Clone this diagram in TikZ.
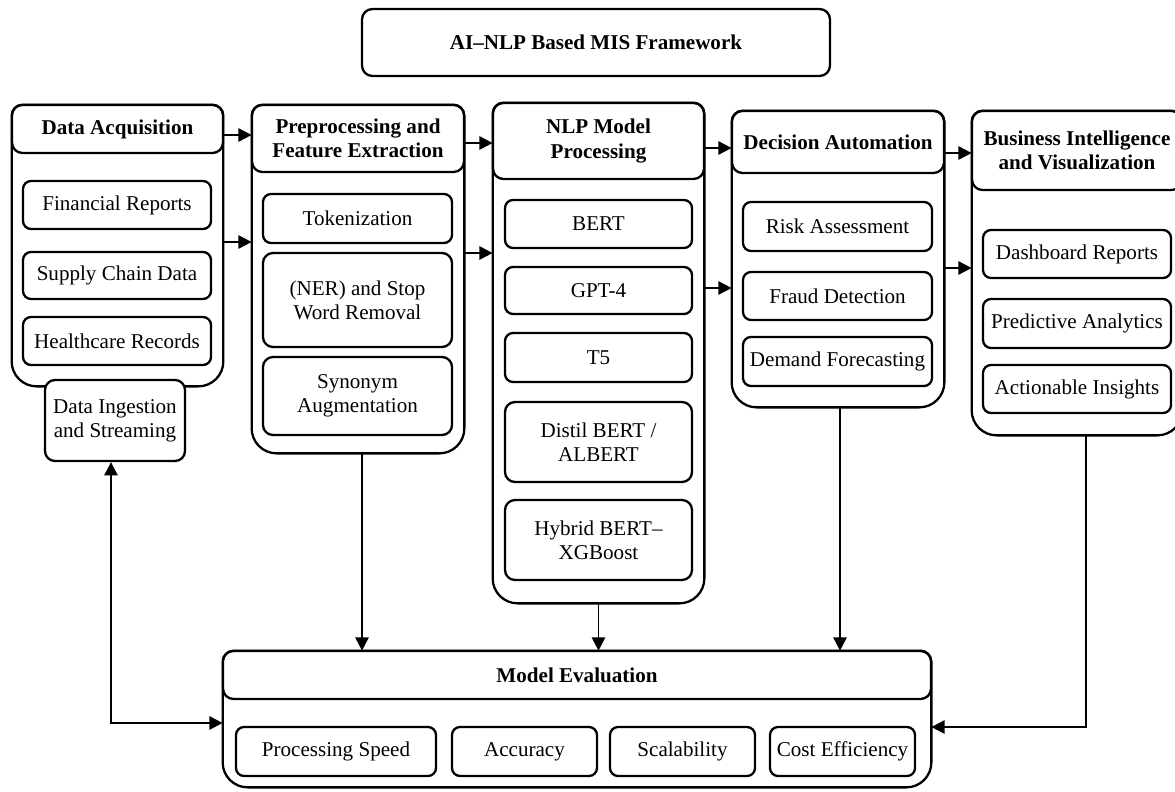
\documentclass[tikz,border=0pt]{standalone}
\usepackage{fontspec}
\setmainfont{Liberation Serif}
\usetikzlibrary{arrows.meta}
\tikzset{every node/.style={font=\fontsize{12}{13.8}\selectfont, inner sep=0pt, align=center},
  spans/.style args={#1/#2/#3/#4}{minimum width={(#3-#1)*0.02cm}, minimum height={(#4-#2)*0.02cm},
    at={({(#1+#3)/2},{(#2+#4)/2})}},
  box/.style={draw, line width=1.3pt, rounded corners=0.16cm, fill=white},
  hdr/.style={box, rounded corners=0.21cm, font=\fontsize{12}{13.8}\selectfont\bfseries},
  panel/.style={line width=1.3pt},
  arr/.style={line width=1.1pt, -{Triangle[length=7.5pt,width=7.5pt]}},
  twoarr/.style={line width=1.1pt, {Triangle[length=7.5pt,width=7.5pt]}-{Triangle[length=7.5pt,width=7.5pt]}}}
\newcommand{\panelframe}[1]{%
  \draw[panel] (#1.north) [rounded corners=0.22cm] -| (#1.west)
    [rounded corners=0.5cm] |- (#1.south) -| (#1.east)
    [rounded corners=0.22cm] |- (#1.north);}

\begin{document}
\begin{tikzpicture}[x=0.02cm,y=-0.02cm]
  \useasboundingbox (0,0) rectangle (1175,791);
  \clip (0,0) rectangle (1175,791);
  \node[hdr, spans=362/9/830/76] (title) {AI--NLP Based MIS Framework};
  % panels
  \node[spans=12/105/223/386] (da) {};
  \node[spans=252/105/464/453] (pp) {};
  \node[spans=493/103/704/603] (nlp) {};
  \node[spans=732/111/944/407] (dec) {};
  \node[spans=972/111/1182/435] (bi) {};
  \node[spans=223/651/931/787] (ev) {};
  \foreach \p in {da,pp,nlp,dec,bi,ev} {\panelframe{\p}}
  % headers
  \node[hdr, spans=12/105/223/153] (dah) {Data Acquisition};
  \node[hdr, spans=252/105/464/172] (pph) {Preprocessing and\\Feature Extraction};
  \node[hdr, spans=493/103/704/179] (nlph) {NLP Model\\Processing};
  \node[hdr, spans=732/111/944/173] (dech) {Decision Automation};
  \node[hdr, spans=972/111/1182/190] (bih) {Business Intelligence\\and Visualization};
  \node[hdr, spans=223/651/931/699] (evh) {Model Evaluation};
  % inner boxes
  \node[box, spans=23/181/211/229] (fin) {Financial Reports};
  \node[box, spans=23/252/211/299] (sup) {Supply Chain Data};
  \node[box, spans=23/317/211/365] (hc) {Healthcare Records};
  \node[box, rounded corners=0.2cm, spans=45/380/185/461] (ing) {Data Ingestion\\and Streaming};
  \node[box, spans=263/194/452/243] (tok) {Tokenization};
  \node[box, rounded corners=0.2cm, spans=263/253/452/347] (ner) {(NER) and Stop\\Word Removal};
  \node[box, rounded corners=0.2cm, spans=263/357/452/435] (syn) {Synonym\\Augmentation};
  \node[box, spans=505/200/692/248] (bert) {BERT};
  \node[box, spans=505/267/692/314] (gpt) {GPT-4};
  \node[box, spans=505/333/692/382] (tfive) {T5};
  \node[box, rounded corners=0.2cm, spans=505/402/692/482] (distil) {Distil BERT /\\ALBERT};
  \node[box, rounded corners=0.2cm, spans=505/500/692/580] (hyb) {Hybrid BERT--\\XGBoost};
  \node[box, spans=743/202/932/251] (risk) {Risk Assessment};
  \node[box, spans=743/272/932/320] (fraud) {Fraud Detection};
  \node[box, spans=743/337/932/386] (dem) {Demand Forecasting};
  \node[box, spans=983/230/1171/278] (dash) {Dashboard Reports};
  \node[box, spans=983/299/1171/348] (pred) {Predictive Analytics};
  \node[box, spans=983/365/1171/413] (act) {Actionable Insights};
  \node[box, spans=236/727/436/776] (speed) {Processing Speed};
  \node[box, spans=452/727/597/776] (acc) {Accuracy};
  \node[box, spans=610/727/755/776] (scal) {Scalability};
  \node[box, spans=770/727/915/776] (cost) {Cost Efficiency};
  % connectors
  \draw[arr] (dah.east |- 0,135) -- (pp.west |- 0,135);
  \draw[arr] (da.east |- 0,242) -- (pp.west |- 0,242);
  \draw[arr] (pph.east |- 0,143) -- (nlp.west |- 0,143);
  \draw[arr] (pp.east |- 0,253) -- (nlp.west |- 0,253);
  \draw[arr] (nlph.east |- 0,148) -- (dec.west |- 0,148);
  \draw[arr] (nlp.east |- 0,288) -- (dec.west |- 0,288);
  \draw[arr] (dech.east |- 0,153) -- (bi.west |- 0,153);
  \draw[arr] (dec.east |- 0,268) -- (bi.west |- 0,268);
  \draw[arr] (pp.south -| 362,0) -- (ev.north -| 362,0);
  \draw[arr] (nlp.south) -- (nlp.south |- ev.north);
  \draw[arr] (dec.south -| 840,0) -- (ev.north -| 840,0);
  \draw[arr] (bi.south -| 1086,0) |- (ev.east |- 0,727);
  \draw[twoarr] (ing.south -| 111,0) |- (ev.west |- 0,723);
\end{tikzpicture}
\end{document}
